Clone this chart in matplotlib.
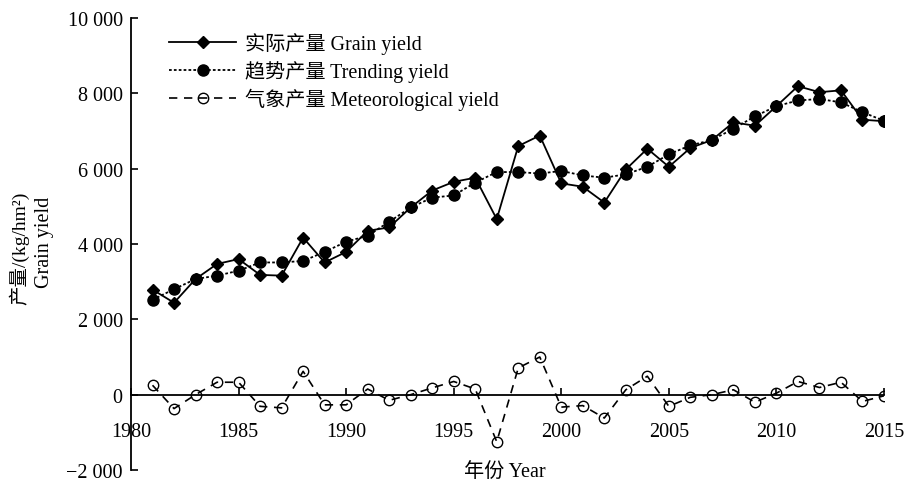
import matplotlib
matplotlib.use("Agg")
import matplotlib.pyplot as plt
from matplotlib.ticker import FuncFormatter

years = list(range(1981, 2016))
grain_yield = [2790, 2440, 3070, 3470, 3600, 3180, 3160, 4170, 3510, 3790,
               4350, 4440, 4970, 5420, 5650, 5760, 4660, 6600, 6880, 5610,
               5520, 5100, 5980, 6530, 6050, 6550, 6760, 7230, 7140, 7660,
               8190, 8030, 8080, 7300, 7260]
trend_yield = [2520, 2800, 3070, 3160, 3290, 3510, 3510, 3550, 3790, 4060,
               4220, 4590, 4970, 5230, 5290, 5630, 5910, 5910, 5870, 5940,
               5820, 5760, 5850, 6050, 6380, 6620, 6760, 7060, 7390, 7660,
               7810, 7850, 7760, 7500, 7270]
meteo_yield = [250, -370, 0, 330, 330, -310, -350, 620, -270, -270,
               150, -150, 0, 180, 350, 150, -1250, 710, 1000, -330,
               -290, -620, 130, 490, -310, -70, 0, 130, -200, 40,
               350, 190, 330, -180, -30]
legend_labels = ["实际产量 Grain yield", "趋势产量 Trending yield", "气象产量 Meteorological yield"]
x_ticks = [1980, 1985, 1990, 1995, 2000, 2005, 2010, 2015]
y_ticks = [-2000, 0, 2000, 4000, 6000, 8000, 10000]

FAM = ["Liberation Serif", "Noto Sans CJK SC"]
plt.rcParams["font.family"] = FAM
plt.rcParams["axes.unicode_minus"] = True

fig = plt.figure(figsize=(9.09, 4.89), dpi=100)
ax = fig.add_axes([131/909, 1 - 471/489, (884 - 131)/909, (471 - 19)/489])

ax.plot(years, grain_yield, color="black", lw=1.3, ls="-", marker="D", ms=6,
        mfc="black", mec="black", label=legend_labels[0])
ax.plot(years, trend_yield, color="black", lw=1.3, ls=(0, (1.5, 1.2)), marker="o", ms=8,
        mfc="black", mec="black", label=legend_labels[1])
ax.plot(years, meteo_yield, color="black", lw=1.2, ls=(0, (5, 4)), marker="o", ms=7.5,
        mfc="none", mec="black", mew=1.0, label=legend_labels[2])

ax.set_xlim(1980, 2015)
ax.set_ylim(-2000, 10000)
ax.spines["top"].set_visible(False)
ax.spines["right"].set_visible(False)
ax.spines["bottom"].set_position(("data", 0))
ax.spines["left"].set_linewidth(1.3)
ax.spines["bottom"].set_linewidth(1.3)

ax.set_xticks(x_ticks)
ax.set_yticks(y_ticks)

def yfmt(v, pos):
    v = int(round(v))
    if v == 0:
        return "0"
    s = f"{abs(v):,}".replace(",", " ")
    return ("\u2212" if v < 0 else "") + s

ax.yaxis.set_major_formatter(FuncFormatter(yfmt))
ax.tick_params(axis="x", direction="in", length=5, width=1.2, pad=20, labelsize=14.5)
ax.tick_params(axis="y", direction="in", length=5, width=1.2, pad=6, labelsize=14.5)

fig.text(505/909, 1 - 472/489, "年份 Year", ha="center", va="center", fontsize=14.5, family=FAM)
fig.text(19/909, 1 - 248/489, "产量/(kg/hm²)", rotation=90, ha="center", va="center",
         fontsize=14, family=FAM)
fig.text(44/909, 1 - 242/489, "Grain yield", rotation=90, ha="center", va="center",
         fontsize=14.5, family=FAM)

leg = ax.legend(loc="upper left", bbox_to_anchor=(0.035, 0.995), frameon=False,
                handlelength=3.3, handletextpad=0.45, labelspacing=0.28,
                borderaxespad=0.2, prop={"family": FAM, "size": 14.5})

fig.savefig("out.png", dpi=100)
